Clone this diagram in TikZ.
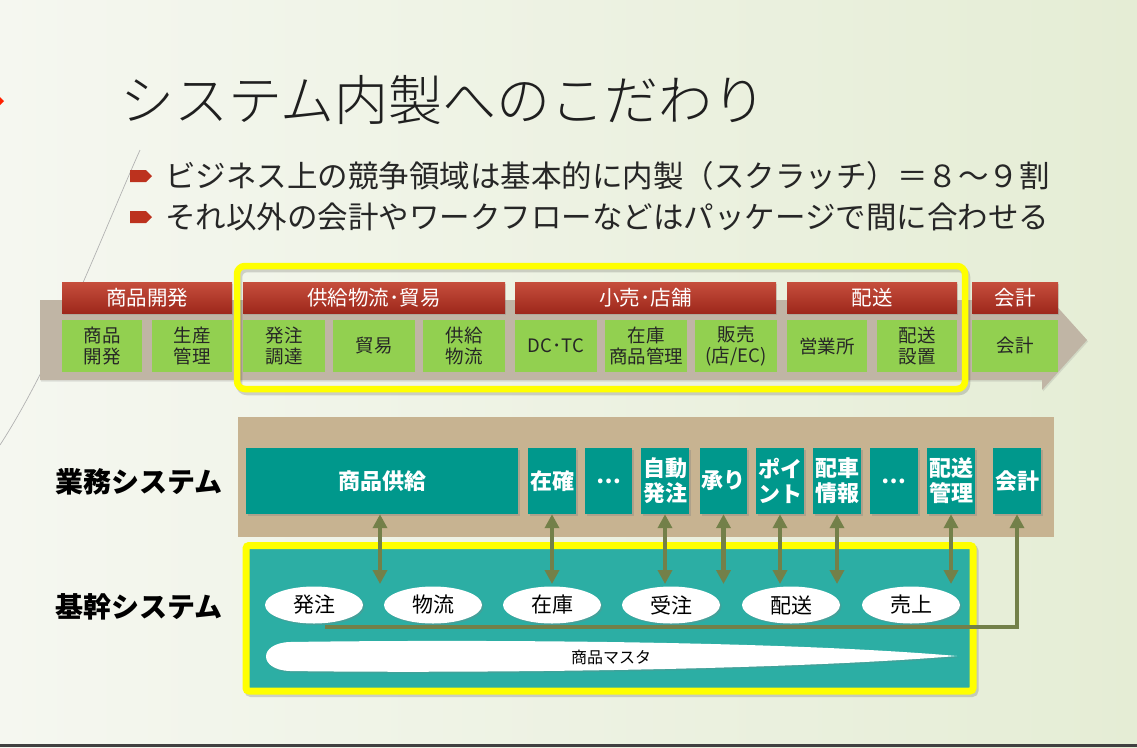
\documentclass[tikz,border=0pt]{standalone}
\usepackage{fontspec}
\setmainfont{Noto Sans CJK JP}
\newfontfamily\lightjp{Noto Sans CJK JP Light}
\usetikzlibrary{arrows.meta,shadows,shapes.geometric,calc}
\definecolor{bgL}{RGB}{245,247,240}
\definecolor{bgR}{RGB}{229,237,213}
\definecolor{hdrT}{RGB}{198,78,60}
\definecolor{hdrB}{RGB}{158,40,28}
\definecolor{grn}{RGB}{146,208,80}
\definecolor{tanA}{RGB}{192,181,165}
\definecolor{tanB}{RGB}{199,179,145}
\definecolor{tealBox}{RGB}{0,152,140}
\definecolor{tealCore}{RGB}{44,174,164}
\definecolor{olive}{RGB}{115,128,73}
\definecolor{yel}{RGB}{255,255,0}
\definecolor{bul}{RGB}{188,50,30}
\begin{document}
\begin{tikzpicture}[x=1pt,y=-1pt,
  hdr/.style={top color=hdrT,bottom color=hdrB,text=white,font=\fontsize{20.5}{24}\selectfont,
    minimum height=31,inner sep=0,drop shadow={opacity=0.25,shadow xshift=1pt,shadow yshift=-1.5pt}},
  grnbox/.style={fill=grn,text=black!85,font=\fontsize{18.5}{21}\selectfont,minimum height=52,
    align=center,inner sep=0},
  sysbox/.style={fill=tealBox,text=white,font=\bfseries\fontsize{22}{25}\selectfont,minimum height=66,
    align=center,inner sep=0,drop shadow={opacity=0.35,shadow xshift=2pt,shadow yshift=-2pt}},
  oval/.style={ellipse,fill=white,minimum width=98,minimum height=37,inner sep=0,
    font=\fontsize{21}{24}\selectfont,drop shadow={opacity=0.3,shadow xshift=1.5pt,shadow yshift=-1.5pt}},
  dblarrow/.style={draw=olive,line width=4.5pt,{Triangle[width=14pt,length=14pt]}-{Triangle[width=14pt,length=14pt]}},
  onearrow/.style={draw=olive,line width=4.5pt,-{Triangle[width=14pt,length=14pt]}},
  lbl/.style={font=\bfseries\fontsize{28}{30}\selectfont,anchor=west,inner sep=0,text=black}
]
\useasboundingbox (0,0) rectangle (1137,747);
% background
\shade[left color=bgL,right color=bgR] (0,0) rectangle (1137,747);
\fill[black!75] (0,744) rectangle (1137,747);
\draw[black!30,line width=0.7pt] (0,445) .. controls (55,360) and (100,240) .. (140,150);
\fill[red!75!orange] (0,97) -- (4,101) -- (0,105) -- cycle;

% title and bullets
\node[anchor=west,inner sep=0,font=\lightjp\fontsize{54}{60}\selectfont,text=black!88] (title) at (120,100) {システム内製へのこだわり};
\fill[bul] (130,170) -- (146,170) -- (152,176) -- (146,182) -- (130,182) -- cycle;
\fill[bul] (130,211) -- (146,211) -- (152,217) -- (146,223) -- (130,223) -- cycle;
\node[anchor=west,inner sep=0,font=\fontsize{30.5}{34}\selectfont,text=black!85] (b1t) at (165,176) {ビジネス上の競争領域は基本的に内製（スクラッチ）＝８～９割};
\node[anchor=west,inner sep=0,font=\fontsize{30.5}{34}\selectfont,text=black!85] (b2t) at (165,217) {それ以外の会計やワークフローなどはパッケージで間に合わせる};

% process arrow
\fill[tanA,drop shadow={opacity=0.2,shadow xshift=1pt,shadow yshift=-1.5pt}]
  (40,300) -- (1042,300) -- (1042,290) -- (1087,340) -- (1042,390) -- (1042,380) -- (40,380) -- cycle;
\node[hdr,minimum width=170] (h1) at (147,297.5) {商品開発};
\node[hdr,minimum width=262] (h2) at (374,297.5) {供給物流･貿易};
\node[hdr,minimum width=261] (h3) at (645.5,297.5) {小売･店舗};
\node[hdr,minimum width=170] (h4) at (872,297.5) {配送};
\node[hdr,minimum width=86] (h5) at (1015,297.5) {会計};

\node[grnbox,minimum width=80] (g1) at (102,346) {商品\\開発};
\node[grnbox,minimum width=80] (g2) at (192,346) {生産\\管理};
\node[grnbox,minimum width=82] (g3) at (284,346) {発注\\調達};
\node[grnbox,minimum width=82] (g4) at (374,346) {貿易};
\node[grnbox,minimum width=82] (g5) at (464,346) {供給\\物流};
\node[grnbox,minimum width=82] (g6) at (556,346) {DC･TC};
\node[grnbox,minimum width=82] (g7) at (646,346) {在庫\\商品管理};
\node[grnbox,minimum width=82] (g8) at (736,346) {販売\\(店/EC)};
\node[grnbox,minimum width=80] (g9) at (827,346) {営業所};
\node[grnbox,minimum width=80] (g10) at (917,346) {配送\\設置};
\node[grnbox,minimum width=86] (g11) at (1015,346) {会計};

\draw[black,opacity=0.15,line width=6.5pt,rounded corners=8pt] (239,269) rectangle (967,392);
\draw[yel,line width=6.5pt,rounded corners=8pt] (237,266) rectangle (965,389);

% business systems
\fill[tanB] (238,417) rectangle (1054,537);
\node[lbl] (lbl1) at (55,482) {業務システム};
\node[sysbox,minimum width=272] (s1) at (382,481) {商品供給};
\node[sysbox,minimum width=48] (s2) at (552,481) {在確};
\node[sysbox,minimum width=47] (s3) at (608.5,481) {…};
\node[sysbox,minimum width=48] (s4) at (665,481) {自動\\発注};
\node[sysbox,minimum width=47] (s5) at (723.5,481) {承り};
\node[sysbox,minimum width=48] (s6) at (780,481) {ポイ\\ント};
\node[sysbox,minimum width=48] (s7) at (837,481) {配車\\情報};
\node[sysbox,minimum width=48] (s8) at (894,481) {…};
\node[sysbox,minimum width=48] (s9) at (951,481) {配送\\管理};
\node[sysbox,minimum width=48] (s10) at (1017,481) {会計};

% core systems
\node[lbl] (lbl2) at (55,607) {基幹システム};
\draw[black,opacity=0.15,line width=7pt,rounded corners=3pt] (248,548) rectangle (975,693.5);
\draw[yel,line width=7pt,fill=tealCore,rounded corners=3pt] (246,545.5) rectangle (973,691);

\coordinate (lstart) at (325,627);
\coordinate (lcorner) at (1017,627);
\draw[onearrow] (lstart) -- (lcorner) -- (s10.south);

\node[oval] (e1) at (314,605) {発注};
\node[oval] (e2) at (433,605) {物流};
\node[oval] (e3) at (552,605) {在庫};
\node[oval] (e4) at (671,605) {受注};
\node[oval] (e5) at (791,605) {配送};
\node[oval] (e6) at (911,605) {売上};

\fill[white,drop shadow={opacity=0.25,shadow xshift=1pt,shadow yshift=-1.5pt}]
  (957,656) .. controls (760,639) and (420,640) .. (290,642)
  .. controls (258,643) and (258,670) .. (290,671)
  .. controls (420,673) and (760,672) .. (957,656) -- cycle;
\node[font=\fontsize{16}{18}\selectfont,inner sep=0] (master) at (611,657) {商品マスタ};

% links
\coordinate (a1) at (380,584);
\draw[dblarrow] ([xshift=-2pt]s1.south) -- (a1);
\draw[dblarrow] (s2.south) -- (s2.south |- a1);
\draw[dblarrow] (s4.south) -- (s4.south |- a1);
\draw[dblarrow] (s5.south) -- (s5.south |- a1);
\draw[dblarrow] (s6.south) -- (s6.south |- a1);
\draw[dblarrow] (s7.south) -- (s7.south |- a1);
\draw[dblarrow] (s9.south) -- (s9.south |- a1);
\end{tikzpicture}
\end{document}
